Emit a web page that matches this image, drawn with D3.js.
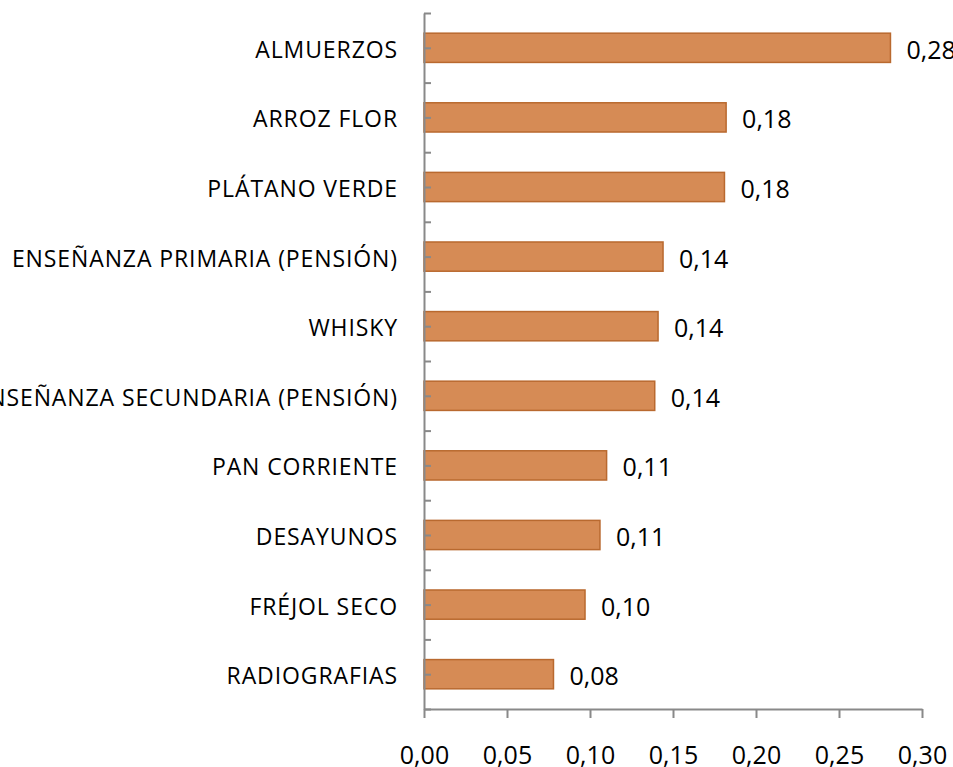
<!DOCTYPE html>
<html>
<head>
<meta charset="utf-8">
<script src="https://cdn.jsdelivr.net/npm/d3@7"></script>
<style>
  body { margin: 0; background: #fff; }
  svg { display: block; }
  text { font-family: "Open Sans", sans-serif; fill: #000; }
</style>
</head>
<body>
<div id="chart-area"></div>
<script>
// Data
const categories = [
    "ALMUERZOS", "ARROZ FLOR", "PLÁTANO VERDE", "ENSEÑANZA PRIMARIA (PENSIÓN)", "WHISKY",
    "ENSEÑANZA SECUNDARIA (PENSIÓN)", "PAN CORRIENTE", "DESAYUNOS", "FRÉJOL SECO", "RADIOGRAFIAS"
];
const values = [0.281, 0.182, 0.181, 0.144, 0.141, 0.139, 0.110, 0.106, 0.097, 0.078];
const xTicks = [0, 0.05, 0.10, 0.15, 0.20, 0.25, 0.30];

const width = 953, height = 767;
const svg = d3.select("#chart-area").append("svg")
    .attr("width", width).attr("height", height);

// plot area edges
const plot = { left: 424, right: 922, top: 13, bottom: 709 };
const axisColor = "#898989";
const fmt = v => d3.format(".2f")(v).replace(".", ",");

const x = d3.scaleLinear().domain([0, 0.30]).range([plot.left, plot.right]);
const y = d3.scaleBand().domain(categories).range([plot.top, plot.bottom]).padding(0);
const barH = y.bandwidth() * 0.42;

// Bars
svg.append("g").selectAll("rect")
    .data(categories)
    .join("rect")
    .attr("x", x(0))
    .attr("y", d => y(d) + (y.bandwidth() - barH) / 2)
    .attr("width", (d, i) => x(values[i]) - x(0))
    .attr("height", barH)
    .attr("fill", "#d68b55")
    .attr("stroke", "#b9692f")
    .attr("stroke-width", 1.5);

// Value labels
svg.append("g").selectAll("text")
    .data(categories)
    .join("text")
    .attr("x", (d, i) => x(values[i]) + 16)
    .attr("y", d => y(d) + y.bandwidth() / 2 + 11)
    .style("font-size", "25px")
    .text((d, i) => fmt(values[i]));

// Category labels
svg.append("g").selectAll("text")
    .data(categories)
    .join("text")
    .attr("x", 398)
    .attr("y", d => y(d) + y.bandwidth() / 2 + 10)
    .attr("text-anchor", "end")
    .style("font-size", "23px")
    .style("letter-spacing", "0.9px")
    .text(d => d);

// Y axis: ticks every half category, pointing right
const yHalf = d3.scaleLinear().domain([0, categories.length * 2]).range([plot.top, plot.bottom]);
const yAxis = svg.append("g")
    .attr("transform", `translate(${plot.left},0)`)
    .call(d3.axisRight(yHalf).tickValues(d3.range(0, categories.length * 2 + 1))
        .tickFormat("").tickSize(7).tickSizeOuter(0));
yAxis.selectAll("path, line").attr("stroke", axisColor).attr("stroke-width", 2);

// X axis
const xAxis = svg.append("g")
    .attr("transform", `translate(0,${plot.bottom})`)
    .call(d3.axisBottom(x).tickValues(xTicks).tickFormat(fmt).tickSize(9).tickSizeOuter(0).tickPadding(28));
xAxis.selectAll("path, line").attr("stroke", axisColor).attr("stroke-width", 2);
xAxis.selectAll("text").style("font-size", "25px").attr("fill", "#000");
</script>
</body>
</html>
